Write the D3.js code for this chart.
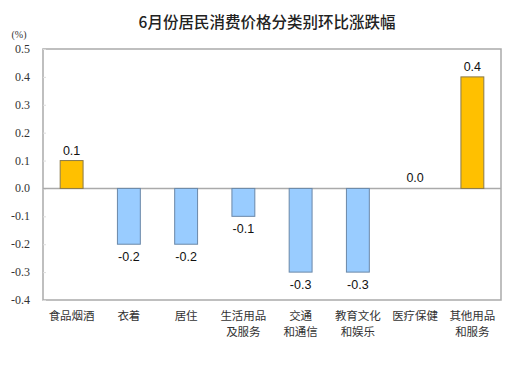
<!DOCTYPE html>
<html><head><meta charset="utf-8">
<script src="https://cdn.jsdelivr.net/npm/d3@7"></script>
<style>body{margin:0;background:#fff;}</style>
</head><body>
<script>
const categories = [["食品烟酒"],["衣着"],["居住"],["生活用品","及服务"],["交通","和通信"],["教育文化","和娱乐"],["医疗保健"],["其他用品","和服务"]];
const values = [0.1,-0.2,-0.2,-0.1,-0.3,-0.3,0.0,0.4];
const yTicks = [0.5,0.4,0.3,0.2,0.1,0.0,-0.1,-0.2,-0.3,-0.4];
const title = "6月份居民消费价格分类别环比涨跌幅";
const unit = "(%)";

const fmt = d => (d<0?"-":"") + Math.abs(d).toFixed(1);
const W=524,H=367, m={l:43,r:23,t:49,b:67};
const svg=d3.select("body").append("svg").attr("width",W).attr("height",H);
const x=d3.scaleBand().domain(d3.range(categories.length)).range([m.l,W-m.r]).paddingInner(0.6).paddingOuter(0.3);
const y=d3.scaleLinear().domain([-0.4,0.5]).range([H-m.b,m.t]);

svg.append("text").attr("x",267).attr("y",28).attr("text-anchor","middle")
  .attr("font-family","Noto Sans CJK SC").attr("font-size",15.5).attr("font-weight",500).attr("fill","#222").text(title);
svg.append("text").attr("x",19).attr("y",38).attr("text-anchor","middle")
  .attr("font-family","Liberation Serif").attr("font-size",10).attr("fill","#333").text(unit);

svg.append("rect").attr("x",m.l).attr("y",m.t).attr("width",W-m.r-m.l).attr("height",H-m.b-m.t)
  .attr("fill","none").attr("stroke","#aaa").attr("stroke-width",1.5);

const ax=svg.append("g").attr("transform",`translate(${m.l},0)`)
  .call(d3.axisRight(y).tickValues(yTicks).tickSize(3).tickFormat(""));
ax.select(".domain").remove();
ax.selectAll("line").attr("stroke","#ddd");
svg.selectAll(".ytl").data(yTicks).enter().append("text").attr("class","ytl")
  .attr("x",30).attr("y",d=>y(d)+4).attr("text-anchor","end")
  .attr("font-family","Liberation Serif").attr("font-size",12).attr("fill","#333")
  .text(fmt);

svg.append("line").attr("x1",m.l).attr("x2",W-m.r).attr("y1",y(0)).attr("y2",y(0))
  .attr("stroke","#aaa").attr("stroke-width",1.5);

svg.selectAll(".bar").data(values).enter().append("rect")
  .attr("x",(d,i)=>x(i)).attr("width",x.bandwidth())
  .attr("y",d=>y(Math.max(0,d))).attr("height",d=>Math.abs(y(d)-y(0)))
  .attr("fill",d=>d>0?"#FFC000":"#99CCFF")
  .attr("stroke",d=>d>0?"#8a7a4a":"#6a88a8").attr("stroke-width",1)
  .attr("display",d=>d===0?"none":null);

svg.selectAll(".vl").data(values).enter().append("text")
  .attr("x",(d,i)=>x(i)+x.bandwidth()/2)
  .attr("y",d=>d>=0?y(d)-6:y(d)+17)
  .attr("text-anchor","middle").attr("font-family","Liberation Sans").attr("font-size",12.5).attr("fill","#111")
  .text(fmt);

const cl=svg.selectAll(".cl").data(categories).enter().append("text")
  .attr("text-anchor","middle").attr("font-family","Noto Sans CJK SC").attr("font-size",11.5).attr("fill","#333");
cl.each(function(d,i){
  const t=d3.select(this);
  d.forEach((s,j)=>t.append("tspan").attr("x",x(i)+x.bandwidth()/2).attr("y",320+j*16).text(s));
});
</script>
</body></html>
